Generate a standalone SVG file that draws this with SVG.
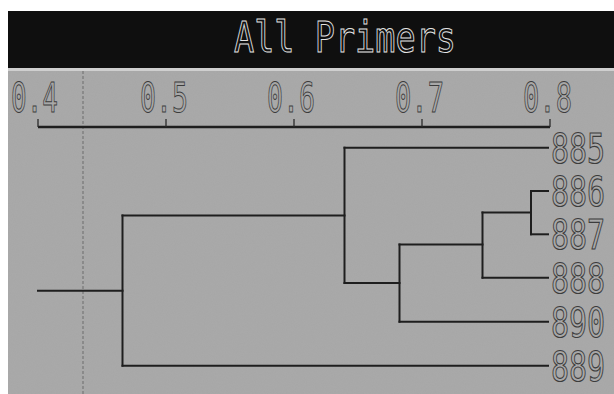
<svg xmlns="http://www.w3.org/2000/svg" width="614" height="394" viewBox="0 0 614 394">
  <defs>
    <filter id="grain" x="0" y="0" width="100%" height="100%">
      <feTurbulence type="fractalNoise" baseFrequency="0.9" numOctaves="2" seed="3" result="n"/>
      <feColorMatrix type="matrix" values="0 0 0 0 0.35  0 0 0 0 0.35  0 0 0 0 0.35  0 0 0 -1.1 0.75" in="n"/>
    </filter>
    <style>
      .digit { font-family: "DejaVu Sans Mono", "Liberation Mono", monospace; font-size: 40px; fill: none; stroke: #3c3c3c; stroke-width: 1; }
      .leaf { font-family: "DejaVu Sans Mono", "Liberation Mono", monospace; font-size: 40px; fill: none; stroke: #3c3c3c; stroke-width: 1; vector-effect: non-scaling-stroke; }
      .title { font-family: "DejaVu Sans Mono", "Liberation Mono", monospace; font-size: 42px; fill: none; stroke: #e4e4e4; stroke-width: 1; }
      .branch { stroke: #1e1e1e; stroke-width: 2; fill: none; stroke-linecap: square; }
      .axis { stroke: #1e1e1e; stroke-width: 2.5; fill: none; }
      .tick { stroke: #2a2a2a; stroke-width: 1.3; }
      .guide { stroke: #3a3a3a; stroke-width: 1; stroke-dasharray: 3 2; opacity: 0.55; }
    </style>
  </defs>

  <rect x="0" y="0" width="614" height="394" fill="#ffffff"/>
  <rect x="8" y="70" width="606" height="324" fill="#a9a9a9"/>
  <rect x="8" y="70" width="606" height="324" filter="url(#grain)" opacity="0.35"/>
  <rect x="8" y="11" width="606" height="58" fill="#0f0f0f"/>
  <rect x="8" y="68" width="606" height="3" fill="#cfcfcf"/>

  <g id="title">
    <text class="title" x="234" y="52" textLength="222" lengthAdjust="spacingAndGlyphs">All Primers</text>
  </g>

  <line class="guide" x1="83" y1="71" x2="83" y2="394"/>

  <g id="axis">
    <line class="axis" x1="38" y1="127" x2="550" y2="127"/>
    <line class="tick" x1="38" y1="119" x2="38" y2="127"/>
    <line class="tick" x1="166" y1="119" x2="166" y2="127"/>
    <line class="tick" x1="294" y1="119" x2="294" y2="127"/>
    <line class="tick" x1="422" y1="119" x2="422" y2="127"/>
    <line class="tick" x1="550" y1="119" x2="550" y2="127"/>
    <text class="digit" x="11" y="112" textLength="47" lengthAdjust="spacingAndGlyphs">0.4</text>
    <text class="digit" x="140" y="112" textLength="48" lengthAdjust="spacingAndGlyphs">0.5</text>
    <text class="digit" x="267" y="112" textLength="48" lengthAdjust="spacingAndGlyphs">0.6</text>
    <text class="digit" x="395" y="112" textLength="49" lengthAdjust="spacingAndGlyphs">0.7</text>
    <text class="digit" x="523" y="112" textLength="49" lengthAdjust="spacingAndGlyphs">0.8</text>
  </g>

  <g id="connectors">
    <path class="branch" d="M38 290.7 H122.5"/>
    <path class="branch" d="M122.5 215.5 V365.7"/>
    <path class="branch" d="M122.5 365.7 H548"/>
    <path class="branch" d="M122.5 215.5 H344.5"/>
    <path class="branch" d="M344.5 147.7 V283"/>
    <path class="branch" d="M344.5 147.7 H548"/>
    <path class="branch" d="M344.5 283 H399.5"/>
    <path class="branch" d="M399.5 244.5 V321.7"/>
    <path class="branch" d="M399.5 321.7 H548"/>
    <path class="branch" d="M399.5 244.5 H482.5"/>
    <path class="branch" d="M482.5 212.5 V277.7"/>
    <path class="branch" d="M482.5 277.7 H548"/>
    <path class="branch" d="M482.5 212.5 H531"/>
    <path class="branch" d="M531 191 V234.3"/>
    <path class="branch" d="M531 191 H548"/>
    <path class="branch" d="M531 234.3 H548"/>
  </g>

  <g id="leaf-885"><text class="leaf" transform="translate(551 163) scale(0.75 1)">885</text></g>
  <g id="leaf-886"><text class="leaf" transform="translate(551 206) scale(0.75 1)">886</text></g>
  <g id="leaf-887"><text class="leaf" transform="translate(551 249) scale(0.75 1)">887</text></g>
  <g id="leaf-888"><text class="leaf" transform="translate(551 293) scale(0.75 1)">888</text></g>
  <g id="leaf-890"><text class="leaf" transform="translate(551 337) scale(0.75 1)">890</text></g>
  <g id="leaf-889"><text class="leaf" transform="translate(551 381) scale(0.75 1)">889</text></g>
</svg>
